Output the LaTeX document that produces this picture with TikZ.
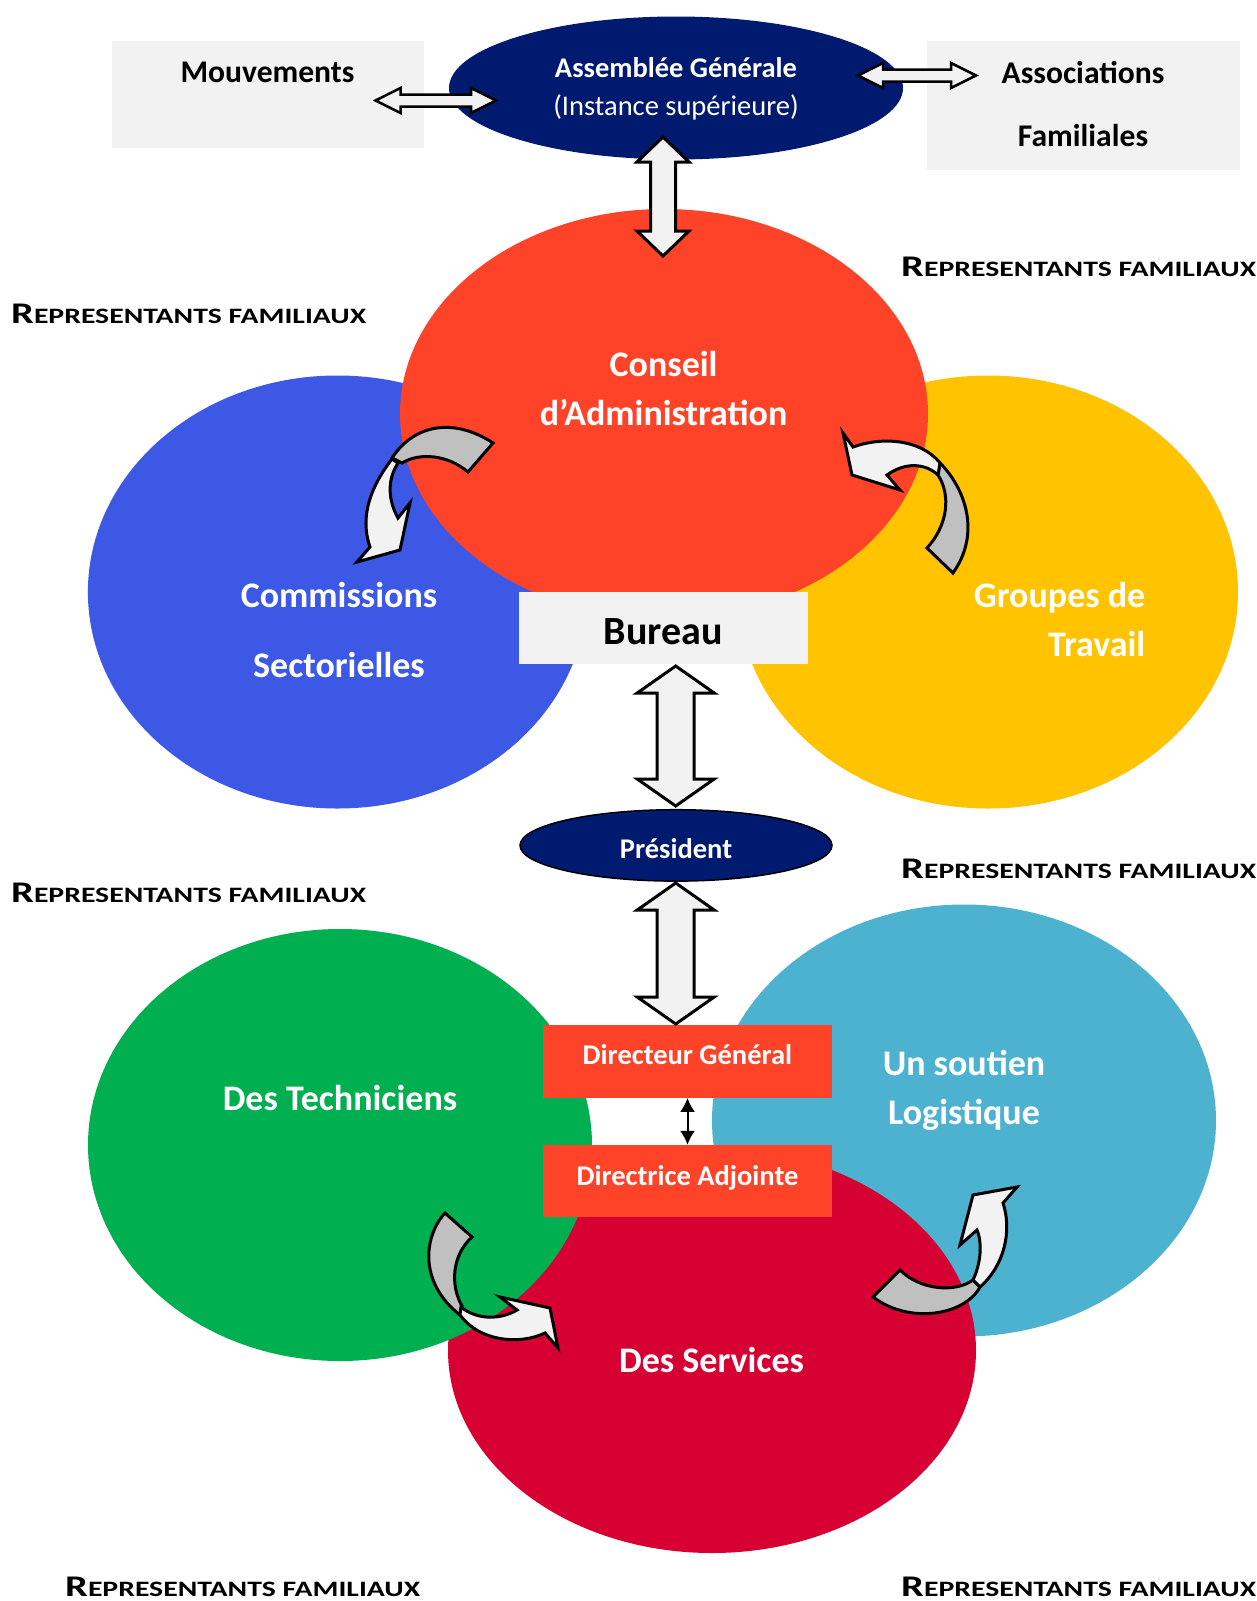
\documentclass[tikz,border=0pt]{standalone}
\usepackage{fontspec}
\setmainfont{Carlito}
\usepackage{graphicx}
\usetikzlibrary{shapes.geometric,calc,arrows.meta}
\definecolor{cnavy}{HTML}{001A70}
\definecolor{cred}{HTML}{FF4328}
\definecolor{cblue}{HTML}{3C58E4}
\definecolor{cyellow}{HTML}{FFC300}
\definecolor{cgreen}{HTML}{00AF50}
\definecolor{caqua}{HTML}{4DB2D0}
\definecolor{ccrimson}{HTML}{D60032}
\definecolor{lgray}{HTML}{F2F2F2}
\definecolor{mgray}{HTML}{C0C0C0}
% hollow double arrow between two named coordinates
% #1 start, #2 end, #3 head length, #4 head half width, #5 shaft half width, #6 style
\newcommand{\hollowdbl}[6]{%
  \coordinate (#1-h) at ($(#1)!#3!(#2)$);
  \coordinate (#2-h) at ($(#2)!#3!(#1)$);
  \draw[#6] (#1) -- ($(#1-h)!#4!90:(#2)$) -- ($(#1-h)!#5!90:(#2)$)
    -- ($(#2-h)!#5!-90:(#1)$) -- ($(#2-h)!#4!-90:(#1)$) -- (#2)
    -- ($(#2-h)!#4!90:(#1)$) -- ($(#2-h)!#5!90:(#1)$)
    -- ($(#1-h)!#5!-90:(#2)$) -- ($(#1-h)!#4!-90:(#2)$) -- cycle;}
\newcommand{\repfam}{\scalebox{1.35}[1]{{\fontsize{30}{30}\selectfont R}{\fontsize{22}{22}\selectfont EPRESENTANTS FAMILIAUX}}}
\begin{document}
\begin{tikzpicture}[x=1pt,y=-1pt,
  oval/.style={ellipse, inner sep=0pt, draw=none},
  box/.style={rectangle, inner sep=0pt, draw=none},
  hollow/.style={fill=lgray, draw=black, line width=3pt, line join=miter},
  cback/.style={fill=mgray, draw=black, line width=3pt, line join=miter},
  cfront/.style={fill=lgray, draw=black, line width=3pt, line join=miter},
  bigw/.style={text=white, font={\bfseries\fontsize{36}{49}\selectfont}, align=center, inner sep=0pt},
  midb/.style={text=black, font={\bfseries\fontsize{31.6}{63.5}\selectfont}, align=center, inner sep=0pt},
  smallw/.style={text=white, font={\bfseries\fontsize{28.5}{37.6}\selectfont}, align=center, inner sep=0pt},
  rep/.style={anchor=base west, inner sep=0pt, font=\bfseries}]
\useasboundingbox (0,0) rectangle (1256,1601);
\fill[white] (0,0) rectangle (1256,1601);

% ---------- top ----------
\node[box, fill=lgray, minimum width=312pt, minimum height=107pt] (mvbox) at (268,94.5) {};
\node[box, fill=lgray, minimum width=313pt, minimum height=128.5pt] (afbox) at (1083.5,105.25) {};
\node[oval, fill=cnavy, minimum width=454pt, minimum height=143pt] (ag) at (676,88) {};
\node[midb] (mvt) at (267.5,72.5) {Mouvements};
\node[midb] (aft) at (1083,104) {Associations\\Familiales};
\node[smallw] (agt) at (676,89) {Assemblée Générale\\{\mdseries(Instance supérieure)}};

\coordinate (h1a) at (375.5,100.5);
\coordinate (h1b) at (496,100.5);
\hollowdbl{h1a}{h1b}{25pt}{12.5pt}{6pt}{hollow, line width=2.5pt}
\coordinate (h2a) at (858,75.5);
\coordinate (h2b) at (976,75.5);
\hollowdbl{h2a}{h2b}{25pt}{12.5pt}{6pt}{hollow, line width=2.5pt}

% ---------- upper circles ----------
\node[oval, fill=cblue, minimum width=499pt, minimum height=433pt] (cs) at (337.4,592) {};
\node[oval, fill=cyellow, minimum width=500pt, minimum height=433pt] (gt) at (988,592) {};
\node[oval, fill=cred, minimum width=528pt, minimum height=410pt] (ca) at (664,414) {};

\coordinate (v1a) at (663,137);
\coordinate (v1b) at (663,256);
\hollowdbl{v1a}{v1b}{25pt}{26pt}{12.5pt}{hollow}

\node[bigw] (cat) at (663.6,388) {Conseil\\d’Administration};
\node[bigw, font={\bfseries\fontsize{36}{70}\selectfont}] (cst) at (339,630) {Commissions\\Sectorielles};
\node[bigw, align=right, anchor=east] (gtt) at (1145.5,619.5) {Groupes de\\Travail};

% curved arrows (top)
\draw[cback] (493,443) .. controls (455,418) and (415,423) .. (392,458) -- (402,463) .. controls (420,452) and (448,455) .. (468,472) -- cycle;
\draw[cfront] (392,459) .. controls (372,485) and (359,515) .. (370,547) -- (357,562) -- (400,550) -- (410,503) -- (398,518) .. controls (388,500) and (387,480) .. (398,463) -- cycle;
\draw[cback] (940,463) .. controls (964,487) and (982,532) .. (953,573) -- (927,548) .. controls (948,525) and (951,495) .. (938,475) -- cycle;
\draw[cfront] (853,447) .. controls (880,437) and (920,438) .. (940,463) -- (938,475) .. controls (925,463) and (905,462) .. (887,475) -- (900,490) -- (852,475) -- (843,433) -- cycle;

\node[box, fill=lgray, minimum width=289pt, minimum height=71.7pt] (bu) at (663.2,627.9) {};
\node[inner sep=0pt, font={\bfseries\fontsize{40}{40}\selectfont}] (but) at (663.2,632) {Bureau};

% ---------- lower circles ----------
\node[oval, fill=caqua, minimum width=504pt, minimum height=432pt] (sl) at (964,1120.5) {};
\node[oval, fill=ccrimson, minimum width=528pt, minimum height=405pt] (ds) at (712,1350.5) {};
\node[oval, fill=cgreen, minimum width=504pt, minimum height=432pt] (te) at (340,1145) {};

\node[box, fill=cred, minimum width=288.4pt, minimum height=72.7pt] (dg) at (687.5,1061.4) {};
\node[box, fill=cred, minimum width=288.4pt, minimum height=71.7pt] (da) at (687.5,1180.9) {};
\node[smallw] (dgt) at (687.5,1055) {Directeur Général};
\node[smallw] (dat) at (687.5,1178) {Directrice Adjointe};
\draw[{Latex[length=14pt,width=15pt]}-{Latex[length=14pt,width=15pt]}, line width=2pt] (dg.south) -- (da.north);

\node[oval, fill=cnavy, draw=black, line width=1.5pt, minimum width=312pt, minimum height=71.4pt] (pr) at (676,845.4) {};
\node[smallw] (prt) at (676,848.5) {Président};

\coordinate (v2a) at (675.7,666);
\coordinate (v2b) at (675.7,806);
\hollowdbl{v2a}{v2b}{27pt}{38.5pt}{18.5pt}{hollow}
\coordinate (v3a) at (675.7,883);
\coordinate (v3b) at (675.7,1024);
\hollowdbl{v3a}{v3b}{27pt}{38.5pt}{18.5pt}{hollow}

\node[bigw] (tet) at (340,1097.6) {Des Techniciens};
\node[bigw] (slt) at (964,1090.5) {Un soutien\\Logistique};
\node[bigw] (dst) at (711.6,1360) {Des Services};

% curved arrows (bottom)
\draw[cback] (445,1213) .. controls (424,1236) and (418,1282) .. (460,1315) -- (462,1306) .. controls (450,1285) and (452,1255) .. (472,1237) -- cycle;
\draw[cfront] (461,1307) .. controls (477,1320) and (500,1320) .. (517,1310) -- (500,1297) -- (550,1308) -- (558,1348) -- (545,1333) .. controls (520,1345) and (480,1342) .. (460,1315) -- cycle;
\draw[cback] (900,1270) .. controls (920,1290) and (955,1293) .. (973,1280) -- (980,1287) .. controls (965,1315) and (910,1325) .. (873,1297) -- cycle;
\draw[cfront] (973,1280) .. controls (980,1265) and (983,1245) .. (977,1230) -- (960,1245) -- (973,1195) -- (1017,1187) -- (1003,1203) .. controls (1012,1230) and (1005,1265) .. (980,1287) -- cycle;

% ---------- labels ----------
\node[rep] (r1) at (11,323) {\repfam};
\node[rep] (r2) at (901,276) {\repfam};
\node[rep] (r3) at (11,902) {\repfam};
\node[rep] (r4) at (901,878) {\repfam};
\node[rep] (r5) at (65,1596) {\repfam};
\node[rep] (r6) at (901,1596) {\repfam};
\end{tikzpicture}
\end{document}
